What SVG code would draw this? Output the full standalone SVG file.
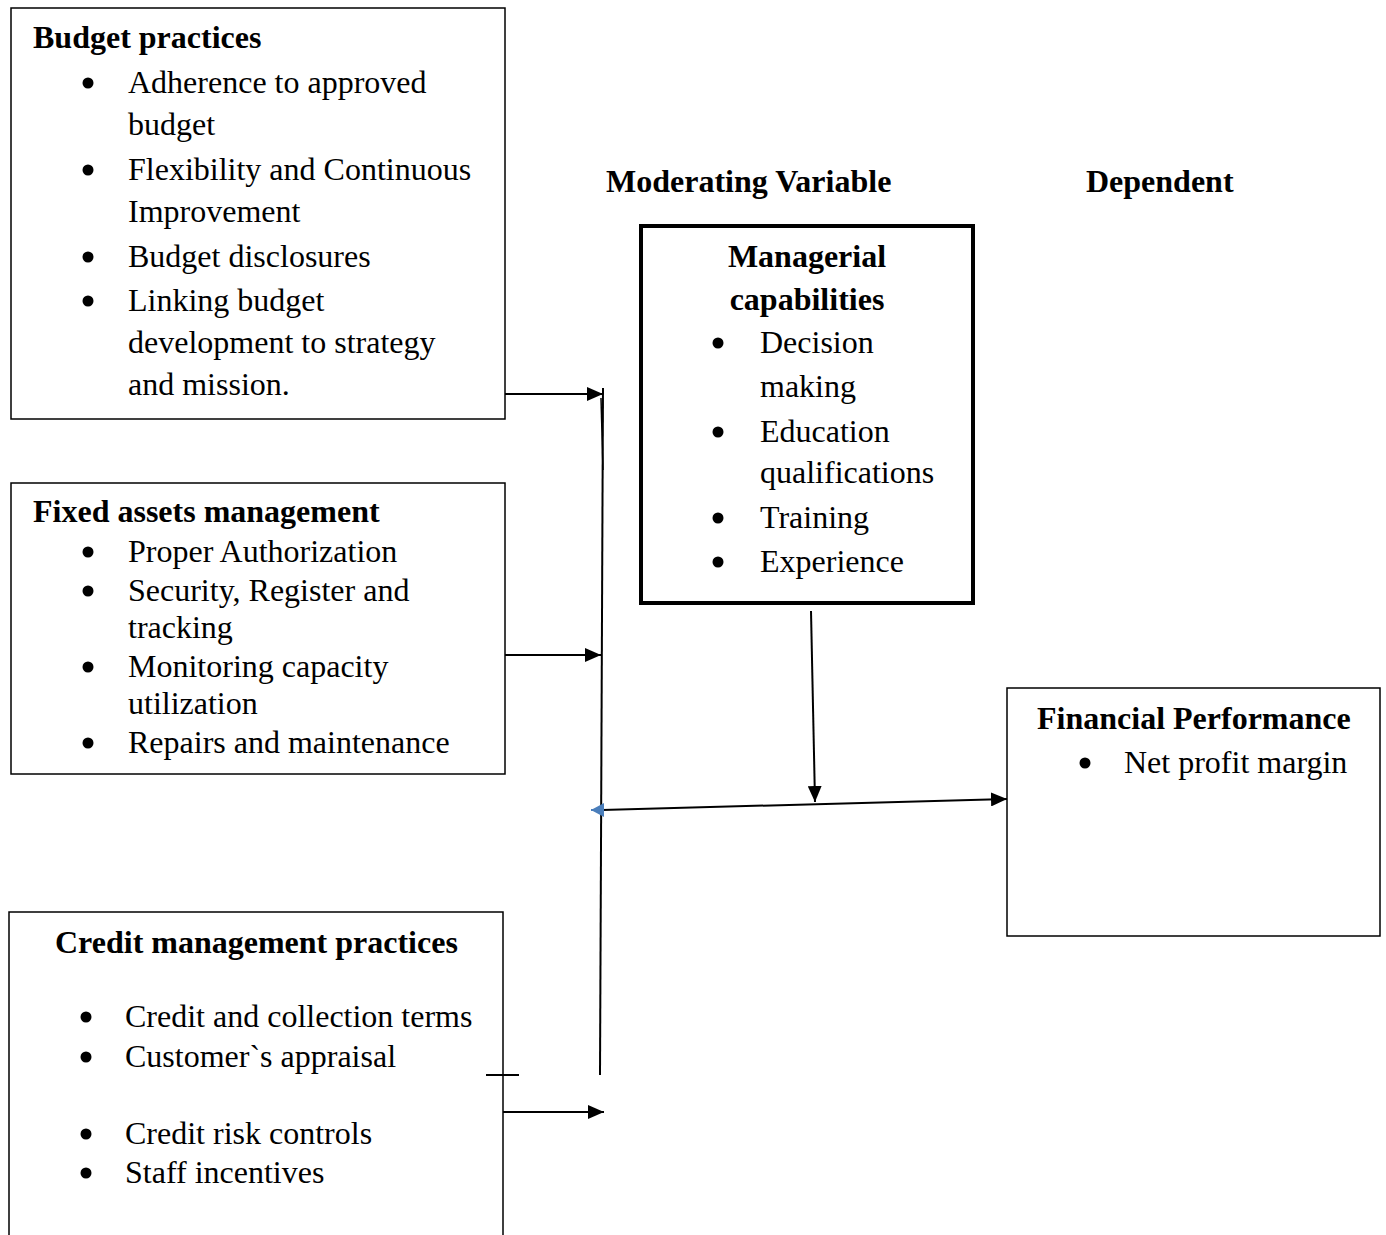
<svg xmlns="http://www.w3.org/2000/svg" width="1386" height="1235" viewBox="0 0 1386 1235">
<style>
text{font-family:"Liberation Serif","Times New Roman",serif;font-size:32px;fill:#000}
.b{font-weight:bold}
.box{fill:#fff;stroke:#000;stroke-width:1.5}
.thick{fill:#fff;stroke:#000;stroke-width:4}
.ln{stroke:#000;stroke-width:2;fill:none}
.dot{fill:#000}
</style>
<defs>
<marker id="ah" viewBox="0 0 16 14" refX="16" refY="7" markerWidth="16" markerHeight="14" markerUnits="userSpaceOnUse" orient="auto"><path d="M0,0 L16,7 L0,14 Z" fill="#000"/></marker>
<marker id="ahb" viewBox="0 0 13 14" refX="13" refY="7" markerWidth="13" markerHeight="14" markerUnits="userSpaceOnUse" orient="auto"><path d="M0,0 L13,7 L0,14 Z" fill="#4a7ebb"/></marker>
</defs>
<rect width="1386" height="1235" fill="#fff"/>
<text class="b" x="606" y="192">Moderating Variable</text>
<text class="b" x="1086" y="192">Dependent</text>
<g id="budget">
<rect class="box" x="11" y="8" width="494" height="411"/>
<text class="b" x="33" y="48">Budget practices</text>
<circle class="dot" cx="88" cy="83" r="5.5"/><text x="128" y="93">Adherence to approved</text>
<text x="128" y="135">budget</text>
<circle class="dot" cx="88" cy="170" r="5.5"/><text x="128" y="180">Flexibility and Continuous</text>
<text x="128" y="222">Improvement</text>
<circle class="dot" cx="88" cy="257" r="5.5"/><text x="128" y="267">Budget disclosures</text>
<circle class="dot" cx="88" cy="301" r="5.5"/><text x="128" y="311">Linking budget</text>
<text x="128" y="353">development to strategy</text>
<text x="128" y="395">and mission.</text>
</g>
<g id="fixed">
<rect class="box" x="11" y="483" width="494" height="291"/>
<text class="b" x="33" y="522">Fixed assets management</text>
<circle class="dot" cx="88" cy="552" r="5.5"/><text x="128" y="562">Proper Authorization</text>
<circle class="dot" cx="88" cy="591" r="5.5"/><text x="128" y="601">Security, Register and</text>
<text x="128" y="638">tracking</text>
<circle class="dot" cx="88" cy="667" r="5.5"/><text x="128" y="677">Monitoring capacity</text>
<text x="128" y="714">utilization</text>
<circle class="dot" cx="88" cy="743" r="5.5"/><text x="128" y="753">Repairs and maintenance</text>
</g>
<g id="credit">
<path class="box" d="M9,1236 L9,912 L503,912 L503,1236"/>
<text class="b" x="55" y="953">Credit management practices</text>
<circle class="dot" cx="86" cy="1017" r="5.5"/><text x="125" y="1027">Credit and collection terms</text>
<circle class="dot" cx="86" cy="1057" r="5.5"/><text x="125" y="1067">Customer`s appraisal</text>
<circle class="dot" cx="86" cy="1134" r="5.5"/><text x="125" y="1144">Credit risk controls</text>
<circle class="dot" cx="86" cy="1173" r="5.5"/><text x="125" y="1183">Staff incentives</text>
</g>
<g id="managerial">
<rect class="thick" x="641" y="226" width="332" height="377"/>
<text class="b" x="807" y="267" text-anchor="middle">Managerial</text>
<text class="b" x="807" y="310" text-anchor="middle">capabilities</text>
<circle class="dot" cx="718" cy="343" r="5.5"/><text x="760" y="353">Decision</text>
<text x="760" y="397">making</text>
<circle class="dot" cx="718" cy="432" r="5.5"/><text x="760" y="442">Education</text>
<text x="760" y="483">qualifications</text>
<circle class="dot" cx="718" cy="518" r="5.5"/><text x="760" y="528">Training</text>
<circle class="dot" cx="718" cy="562" r="5.5"/><text x="760" y="572">Experience</text>
</g>
<g id="financial">
<rect class="box" x="1007" y="688" width="373" height="248"/>
<text class="b" x="1037" y="729">Financial Performance</text>
<circle class="dot" cx="1085" cy="763" r="5.5"/><text x="1124" y="773">Net profit margin</text>
</g>
<g id="connectors">
<line class="ln" x1="603" y1="388" x2="600" y2="1075"/>
<line class="ln" x1="601" y1="398" x2="603" y2="470" style="stroke-width:1.5"/>
<line class="ln" x1="486" y1="1075" x2="519" y2="1075"/>
<line class="ln" x1="505" y1="394" x2="603" y2="394" marker-end="url(#ah)"/>
<line class="ln" x1="505" y1="655" x2="601" y2="655" marker-end="url(#ah)"/>
<line class="ln" x1="503" y1="1112" x2="604" y2="1112" marker-end="url(#ah)"/>
<line class="ln" x1="811" y1="611" x2="815" y2="802" marker-end="url(#ah)"/>
<line class="ln" x1="602" y1="810" x2="1007" y2="799" marker-end="url(#ah)"/>
<line x1="604" y1="810" x2="591" y2="810" stroke="#4a7ebb" stroke-width="2" marker-end="url(#ahb)"/>
</g>
</svg>
